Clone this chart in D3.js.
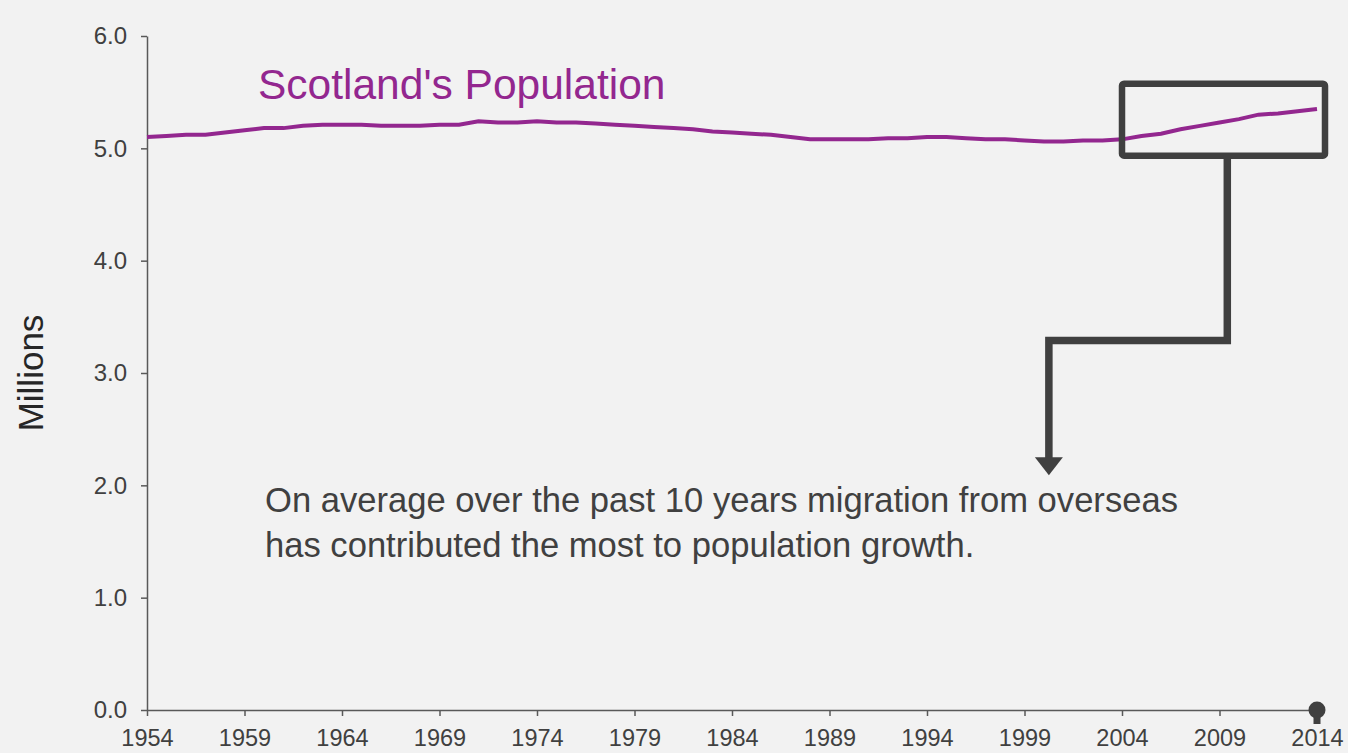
<!DOCTYPE html>
<html lang="en">
  <head>
    <meta charset="UTF-8" />
    <script src="https://d3js.org/d3.v7.min.js"></script>
    <title>Scotland's Population</title>
    <style>
      html, body { margin: 0; padding: 0; background: #f2f2f2; }
      svg { display: block; font-family: "Liberation Sans", Arial, sans-serif; }
      .axis path, .axis line { stroke: #595959; stroke-width: 1.5; }
      .axis text { fill: #404040; }
    </style>
  </head>
  <body>
    <svg width="1348" height="753"></svg>
    <script>
      // mid-year population estimates, millions
      var years = d3.range(1954, 2015);
      var population = [
        5.10, 5.11, 5.12, 5.12, 5.14, 5.16, 5.18, 5.18, 5.20, 5.21,
        5.21, 5.21, 5.20, 5.20, 5.20, 5.21, 5.21, 5.24, 5.23, 5.23,
        5.24, 5.23, 5.23, 5.22, 5.21, 5.20, 5.19, 5.18, 5.17, 5.15,
        5.14, 5.13, 5.12, 5.10, 5.08, 5.08, 5.08, 5.08, 5.09, 5.09,
        5.10, 5.10, 5.09, 5.08, 5.08, 5.07, 5.06, 5.06, 5.07, 5.07,
        5.08, 5.11, 5.13, 5.17, 5.20, 5.23, 5.26, 5.30, 5.31, 5.33,
        5.35
      ];
      var yTicks = [0, 1, 2, 3, 4, 5, 6];
      var xTicks = [1954, 1959, 1964, 1969, 1974, 1979, 1984, 1989, 1994, 1999, 2004, 2009, 2014];

      var title = "Scotland's Population";
      var yLabel = "Millions";
      var note = [
        "On average over the past 10 years migration from overseas",
        "has contributed the most to population growth."
      ];

      var svg = d3.select("svg");
      var x = d3.scaleLinear().domain([1954, 2014]).range([147, 1317]);
      var y = d3.scaleLinear().domain([0, 6]).range([710, 36]);
      var dark = "#404040";

      // axes
      svg.append("g")
        .attr("class", "axis")
        .attr("transform", "translate(147,0)")
        .call(d3.axisLeft(y).tickValues(yTicks).tickFormat(d3.format(".1f"))
          .tickSize(6).tickSizeOuter(0).tickPadding(14))
        .selectAll("text")
        .attr("font-size", 24)
        .attr("font-family", "Liberation Sans, Arial, sans-serif");

      svg.append("g")
        .attr("class", "axis")
        .attr("transform", "translate(0,710)")
        .call(d3.axisBottom(x).tickValues(xTicks).tickFormat(d3.format("d"))
          .tickSize(6).tickSizeOuter(0).tickPadding(13))
        .selectAll("text")
        .attr("font-size", 23.5)
        .attr("font-family", "Liberation Sans, Arial, sans-serif");

      svg.append("text")
        .attr("transform", "translate(43,373) rotate(-90)")
        .attr("text-anchor", "middle")
        .attr("font-size", 35)
        .attr("fill", "#262626")
        .text(yLabel);

      // population line
      var line = d3.line()
        .x(function (d, i) { return x(years[i]); })
        .y(function (d) { return y(d); });

      svg.append("path")
        .datum(population)
        .attr("d", line)
        .attr("fill", "none")
        .attr("stroke", "#93278f")
        .attr("stroke-width", 4);

      svg.append("text")
        .attr("x", 258)
        .attr("y", 99)
        .attr("font-size", 42.5)
        .attr("fill", "#93278f")
        .text(title);

      // highlight box over the last ten years
      var bx0 = x(2004), bx1 = x(2014) + 8, by0 = y(5.575), by1 = y(4.935);
      svg.append("rect")
        .attr("x", bx0).attr("y", by0)
        .attr("width", bx1 - bx0).attr("height", by1 - by0)
        .attr("rx", 2)
        .attr("fill", "none")
        .attr("stroke", dark)
        .attr("stroke-width", 6.5);

      // elbow connector down to the note
      var cx1 = x(2009.4), cx2 = x(2000.25), cy = y(3.29), tipY = y(2.09);
      svg.append("path")
        .attr("d", "M" + cx1 + "," + by1 + "V" + cy + "H" + cx2 + "V" + (tipY - 16))
        .attr("fill", "none")
        .attr("stroke", dark)
        .attr("stroke-width", 7.5);
      svg.append("path")
        .attr("d", "M" + (cx2 - 14) + "," + (tipY - 18) + "H" + (cx2 + 14) + "L" + cx2 + "," + tipY + "Z")
        .attr("fill", dark);

      svg.append("g")
        .selectAll("text")
        .data(note)
        .join("text")
        .attr("x", 265)
        .attr("y", function (d, i) { return 512 + i * 45; })
        .attr("font-size", 34.6)
        .attr("fill", dark)
        .text(function (d) { return d; });

      // end-of-axis marker
      svg.append("rect")
        .attr("x", x(2014) - 3.5).attr("y", 710)
        .attr("width", 7).attr("height", 14)
        .attr("fill", dark);
      svg.append("circle")
        .attr("cx", x(2014)).attr("cy", 710).attr("r", 8.5)
        .attr("fill", dark);
    </script>
  </body>
</html>
